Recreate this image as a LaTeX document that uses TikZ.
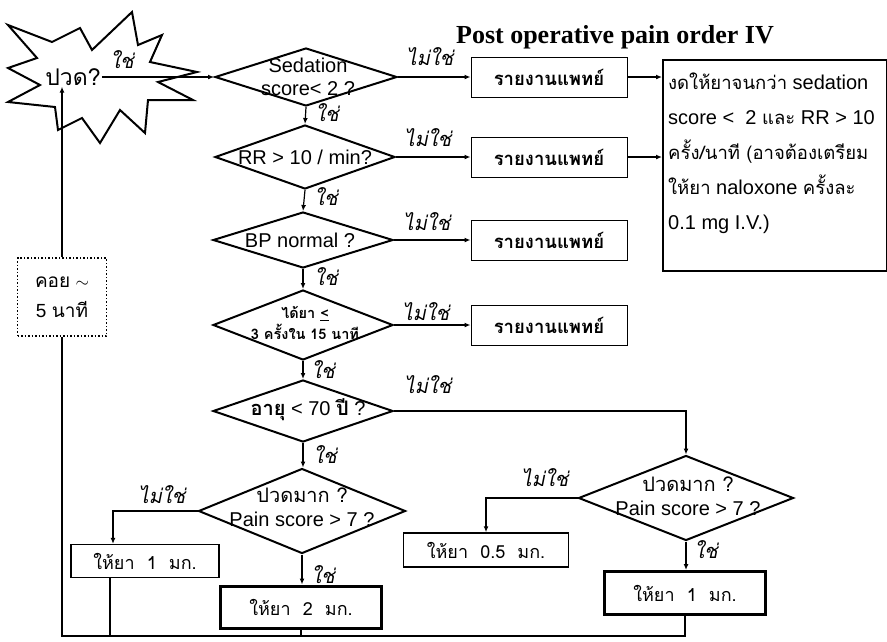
\documentclass[tikz,border=0pt]{standalone}
\usepackage{fontspec}
\setmainfont{Liberation Sans}
\newfontfamily\thaifont[Script=Thai]{Loma}
\newfontfamily\thaislant[Script=Thai,FakeSlant=0.2]{Loma}
\newfontfamily\titlefont{Liberation Serif}
\newcommand\holdth[1]{{\thaifont\fontsize{18.5}{35}\selectfont #1}}
\usetikzlibrary{shapes.geometric,arrows.meta,positioning}
\tikzset{>={Latex[width=5pt,length=6pt]}}
\tikzset{
  decision/.style={diamond, draw, line width=2pt, inner sep=0pt},
  dtext/.style={align=center, inner sep=0pt, font=\fontsize{20}{23}\selectfont},
  report/.style={rectangle, draw, line width=1pt, minimum width=156pt, minimum height=40pt,
    font=\thaifont\bfseries\fontsize{18.5}{20}\selectfont},
  give/.style={rectangle, draw, font=\thaifont\fontsize{18}{20}\selectfont},
  yes/.style={inner sep=0pt, font=\thaislant\fontsize{20}{22}\selectfont},
  flow/.style={->, line width=1.2pt},
  back/.style={line width=1.8pt}
}

\begin{document}
\begin{tikzpicture}[x=1pt,y=-1pt]
\useasboundingbox (0,0) rectangle (887,641);

% the pain burst
\draw[line width=2pt] (8,25) -- (52,42) -- (80,28) -- (92,50) -- (132,12) -- (138,45)
  -- (162,35) -- (150,62) -- (197,72) -- (158,82) -- (193,100) -- (148,100)
  -- (145,133) -- (120,110) -- (100,143) -- (82,118) -- (58,130) -- (55,107)
  -- (8,102) -- (40,85) -- (8,68) -- (37,58) -- cycle;
\node[inner sep=1pt, font=\thaifont\fontsize{23}{25}\selectfont] (pain) at (73,77) {ปวด?};
\node[yes] (y0) at (122,60) {ใช่};

\node[font=\titlefont\bfseries\fontsize{26}{28}\selectfont] (title) at (615,37) {Post operative pain order IV};

% checks
\node[decision, minimum width=182pt, minimum height=58pt] (sed) at (306,77) {};
\node[dtext] (sedtxt) at (308,77) {Sedation\\score< 2 ?};
\node[decision, minimum width=180pt, minimum height=64pt] (rr) at (305,157) {};
\node[dtext] (rrtxt) at (305,157) {RR > 10 / min?};
\node[decision, minimum width=180pt, minimum height=56pt] (bp) at (303,240) {};
\node[dtext] (bptxt) at (300,240) {BP normal ?};
\node[decision, minimum width=180pt, minimum height=70pt] (dose) at (303,325) {};
\node[dtext, font=\thaifont\bfseries\fontsize{14.5}{21}\selectfont] (dosetxt) at (305,323)
  {ได้ยา \underline{<}\\3 ครั้งใน 15 นาที};
\node[decision, minimum width=180pt, minimum height=62pt] (age) at (303,411) {};
\node[dtext, font=\fontsize{20}{22}\selectfont] (agetxt) at (308,410)
  {{\thaifont\bfseries อายุ} < 70 {\thaifont\bfseries ปี} ?};
\node[decision, minimum width=207pt, minimum height=85pt] (painL) at (302,511) {};
\node[dtext, font=\fontsize{20}{24}\selectfont] (painLtxt) at (302,507)
  {{\thaifont ปวดมาก ?}\\Pain score > 7 ?};
\node[decision, minimum width=215pt, minimum height=85pt] (painR) at (686,498) {};
\node[dtext, font=\fontsize{20}{24}\selectfont] (painRtxt) at (688,496)
  {{\thaifont ปวดมาก ?}\\Pain score > 7 ?};

% report boxes
\node[report] (rep1) at (549,77) {รายงานแพทย์};
\node[report] (rep2) at (549,157) {รายงานแพทย์};
\node[report] (rep3) at (549,240) {รายงานแพทย์};
\node[report] (rep4) at (549,325) {รายงานแพทย์};

\node[draw, line width=1.5pt, anchor=north west, minimum width=224pt, minimum height=211pt] (hold) at (662,59) {};
\node[anchor=north west, align=left, inner sep=0pt, font=\fontsize{20}{35}\selectfont] (holdtxt) at (668,73)
  {\holdth{งดให้ยาจนกว่า} sedation\\
   score <~ 2 \holdth{และ} RR > 10\\
   \holdth{ครั้ง/นาที (อาจต้องเตรียม}\\
   \holdth{ให้ยา} naloxone \holdth{ครั้งละ}\\
   0.1 mg I.V.)};

% doses
\node[give, line width=1.2pt, minimum width=148pt, minimum height=33pt] (giveA) at (145,561) {ให้ยา~~1~~มก.};
\node[give, line width=3pt, minimum width=161pt, minimum height=42pt] (giveB) at (301,607) {ให้ยา~~2~~มก.};
\node[give, line width=1.5pt, minimum width=165pt, minimum height=34pt] (giveC) at (486,550) {ให้ยา~~0.5~~มก.};
\node[give, line width=3pt, minimum width=161pt, minimum height=43pt] (giveD) at (685,593) {ให้ยา~~1~~มก.};

\node[draw, dotted, line width=1.5pt, minimum width=89pt, minimum height=78pt, align=center,
  font=\fontsize{19}{30}\selectfont] (wait) at (62,297) {{\thaifont คอย} $\sim$\\5 {\thaifont นาที}};

% connectors
\draw[flow] (pain.east) -- (pain.east -| sed.west);
\draw[flow] (sed.east) -- (rep1.west);
\draw[flow] (rep1.east) -- (rep1.east -| hold.west);
\draw[flow] (sed.south) -- (rr.north);
\draw[flow] (rr.east) -- (rep2.west);
\draw[flow] (rep2.east) -- (rep2.east -| hold.west);
\draw[flow] (rr.south) -- (bp.north);
\draw[flow] (bp.east) -- (rep3.west);
\draw[flow] (bp.south) -- (dose.north);
\draw[flow] (dose.east) -- (rep4.west);
\draw[flow] (dose.south) -- (age.north);
\draw[flow] (age.east) -| (painR.north);
\draw[flow] (age.south) -- (age.south |- painL.north);
\draw[flow] (painL.west) -| ([xshift=-32pt]giveA.north);
\draw[flow] (painL.south) -- (painL.south |- giveB.north);
\draw[flow] (painR.west) -| (giveC.north);
\draw[flow] (painR.south) -- (painR.south |- giveD.north);

% back to start
\coordinate (loop) at (62,636);
\draw[back] (giveD.south) -- (giveD.south |- loop) -- (loop) -- (wait.south);
\draw[back] ([xshift=-35pt]giveA.south) -- ([xshift=-35pt]giveA.south |- loop);
\draw[back] (giveB.south) -- (giveB.south |- loop);
\draw[back, ->] (wait.north) -- (wait.north |- pain.south);

% yes / no
\node[yes] (n1) at (430,57) {ไม่ใช่};
\node[yes] (y1) at (327,113) {ใช่};
\node[yes] (n2) at (428,138) {ไม่ใช่};
\node[yes] (y2) at (326,197) {ใช่};
\node[yes] (n3) at (427,222) {ไม่ใช่};
\node[yes] (y3) at (326,277) {ใช่};
\node[yes] (n4) at (426,312) {ไม่ใช่};
\node[yes] (y4) at (323,370) {ใช่};
\node[yes] (n5) at (428,385) {ไม่ใช่};
\node[yes] (y5) at (325,455) {ใช่};
\node[yes] (n6) at (162,495) {ไม่ใช่};
\node[yes] (y6) at (323,575) {ใช่};
\node[yes] (n7) at (545,478) {ไม่ใช่};
\node[yes] (y7) at (706,550) {ใช่};
\end{tikzpicture}
\end{document}
